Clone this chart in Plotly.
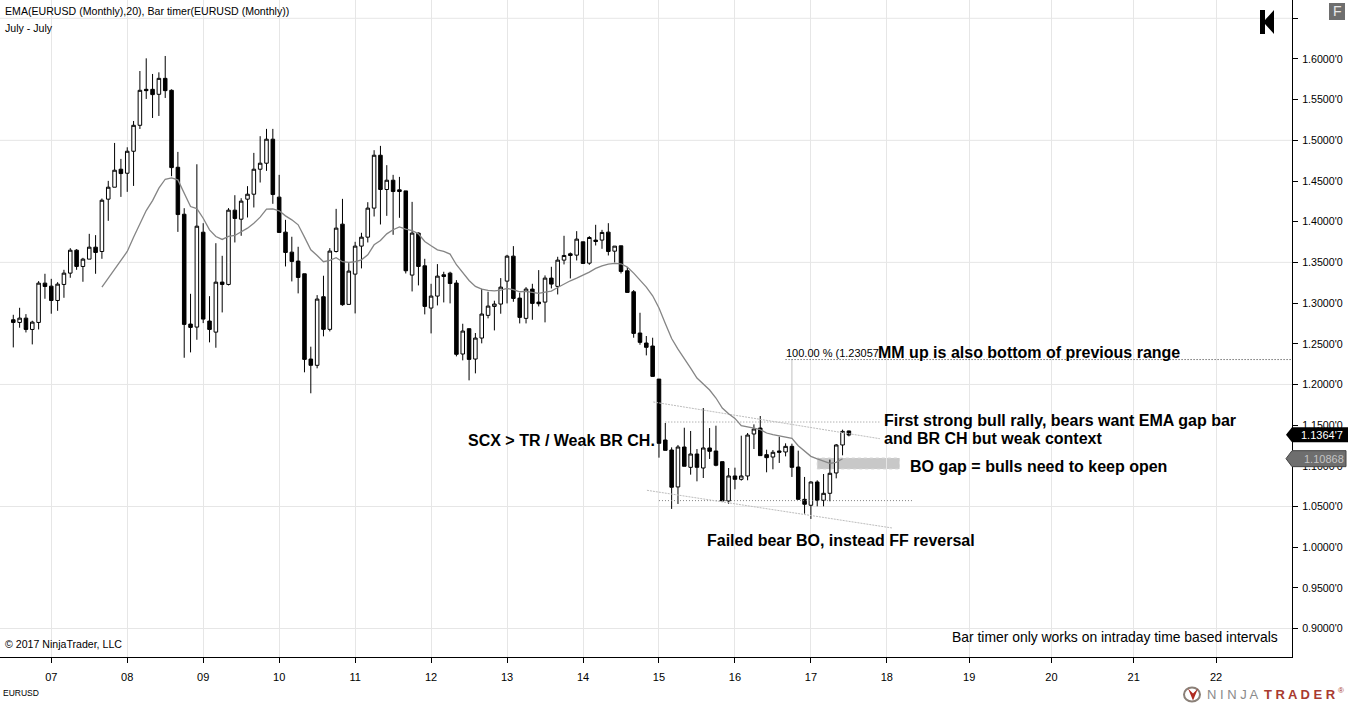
import plotly.graph_objects as go

# monthly bars, 0 = Jan 2007
bar_pos = list(range(-6, 127))

opens = [1.2795, 1.2762, 1.2815, 1.2676, 1.2762, 1.3245,
         1.3208, 1.3032, 1.3229, 1.3368, 1.3650, 1.3450, 1.3540, 1.3687, 1.3634, 1.4277, 1.4424, 1.4645,
         1.4596, 1.4866, 1.5185, 1.5627, 1.5627, 1.5566, 1.5762, 1.5615, 1.4669, 1.4092, 1.2742, 1.2705,
         1.3871, 1.2779, 1.2643, 1.3258, 1.3229, 1.4142, 1.4031, 1.4277, 1.4338, 1.4645, 1.4719, 1.5014,
         1.4302, 1.3872, 1.3626, 1.3516, 1.3360, 1.2312, 1.2235, 1.3078, 1.2677, 1.3634, 1.3970, 1.2984,
         1.3356, 1.3700, 1.3810, 1.4167, 1.4817, 1.4396, 1.4510, 1.4392, 1.4379, 1.3344, 1.3860, 1.3458,
         1.2939, 1.3086, 1.3348, 1.3368, 1.3246, 1.2374, 1.2685, 1.2312, 1.2570, 1.2849, 1.2959, 1.2988,
         1.3270, 1.3577, 1.3061, 1.2812, 1.3172, 1.3012, 1.3012, 1.3307, 1.3205, 1.3528, 1.3606, 1.3589,
         1.3753, 1.3491, 1.3774, 1.3774, 1.3872, 1.3638, 1.3704, 1.3397, 1.3139, 1.2632, 1.2509, 1.2472,
         1.2066, 1.1317, 1.1194, 1.0740, 1.1231, 1.0981, 1.1145, 1.0973, 1.1219, 1.1182, 1.1051, 1.0568,
         1.0875, 1.0834, 1.0875, 1.1391, 1.1464, 1.1137, 1.1108, 1.1182, 1.1170, 1.1239, 1.0985, 1.0588,
         1.0515, 1.0801, 1.0576, 1.0662, 1.0912, 1.1256, 1.1428]
highs = [1.2856, 1.2942, 1.2864, 1.2783, 1.3270, 1.3360,
         1.3298, 1.3257, 1.3409, 1.3675, 1.3663, 1.3556, 1.3851, 1.3835, 1.4285, 1.4502, 1.4968, 1.4772,
         1.4915, 1.5238, 1.5852, 1.6008, 1.5816, 1.5836, 1.6037, 1.5627, 1.4858, 1.4166, 1.3114, 1.4706,
         1.3982, 1.3085, 1.3736, 1.3581, 1.4167, 1.4326, 1.4289, 1.4437, 1.4846, 1.5051, 1.5141, 1.5141,
         1.4576, 1.4023, 1.3815, 1.3692, 1.3360, 1.2464, 1.3098, 1.3336, 1.3675, 1.4158, 1.4281, 1.3491,
         1.3753, 1.3864, 1.4240, 1.4879, 1.4932, 1.4695, 1.4576, 1.4551, 1.4379, 1.4244, 1.3868, 1.3544,
         1.3237, 1.3479, 1.3385, 1.3385, 1.3282, 1.2746, 1.2685, 1.2632, 1.3176, 1.3139, 1.3029, 1.3307,
         1.3593, 1.3700, 1.3127, 1.3196, 1.3237, 1.3405, 1.3340, 1.3446, 1.3569, 1.3827, 1.3622, 1.3884,
         1.3753, 1.3823, 1.3962, 1.3900, 1.3982, 1.3700, 1.3704, 1.3442, 1.3160, 1.2881, 1.2595, 1.2574,
         1.2066, 1.1526, 1.1227, 1.1256, 1.1468, 1.1428, 1.1206, 1.1710, 1.1464, 1.1493, 1.1051, 1.0973,
         1.0977, 1.1370, 1.1403, 1.1509, 1.1612, 1.1198, 1.1194, 1.1358, 1.1276, 1.1272, 1.1186, 1.0863,
         1.0809, 1.0822, 1.0899, 1.1076, 1.1268, 1.1444, 1.1432]
lows = [1.2455, 1.2697, 1.2639, 1.2492, 1.2676, 1.3053,
        1.2869, 1.2905, 1.3065, 1.3311, 1.3409, 1.3262, 1.3540, 1.3360, 1.3544, 1.4011, 1.4424, 1.4305,
        1.4367, 1.4440, 1.5140, 1.5509, 1.5275, 1.5300, 1.5521, 1.4559, 1.3875, 1.2328, 1.2394, 1.2549,
        1.2754, 1.2517, 1.2451, 1.2885, 1.3217, 1.3745, 1.3827, 1.4052, 1.4175, 1.4482, 1.4625, 1.4220,
        1.3868, 1.3450, 1.3266, 1.3119, 1.2149, 1.1891, 1.2198, 1.2591, 1.2652, 1.3622, 1.2967, 1.2984,
        1.2873, 1.3426, 1.3745, 1.4064, 1.3966, 1.4072, 1.3839, 1.4048, 1.3364, 1.3143, 1.3217, 1.2861,
        1.2627, 1.2971, 1.3008, 1.2996, 1.2345, 1.2296, 1.2050, 1.2136, 1.2505, 1.2812, 1.2664, 1.2869,
        1.2996, 1.3016, 1.2750, 1.2750, 1.2795, 1.2959, 1.2763, 1.3180, 1.3106, 1.3475, 1.3303, 1.3524,
        1.3483, 1.3471, 1.3708, 1.3667, 1.3585, 1.3499, 1.3364, 1.3131, 1.2574, 1.2488, 1.2357, 1.2099,
        1.1100, 1.1190, 1.0470, 1.0531, 1.0994, 1.0891, 1.0809, 1.0850, 1.1084, 1.0994, 1.0568, 1.0531,
        1.0711, 1.0818, 1.0822, 1.1206, 1.1125, 1.0920, 1.0957, 1.1035, 1.1116, 1.0863, 1.0580, 1.0412,
        1.0347, 1.0502, 1.0502, 1.0564, 1.0846, 1.1129, 1.1362]
closes = [1.2762, 1.2815, 1.2676, 1.2766, 1.3245, 1.3204,
          1.3032, 1.3233, 1.3368, 1.3650, 1.3450, 1.3540, 1.3687, 1.3622, 1.4264, 1.4424, 1.4633, 1.4592,
          1.4866, 1.5185, 1.5615, 1.5611, 1.5562, 1.5762, 1.5611, 1.4665, 1.4088, 1.2738, 1.2701, 1.3945,
          1.2803, 1.2676, 1.3257, 1.3229, 1.4142, 1.4040, 1.4253, 1.4338, 1.4645, 1.4719, 1.5014, 1.4334,
          1.3868, 1.3622, 1.3512, 1.3315, 1.2308, 1.2235, 1.3049, 1.2677, 1.3639, 1.3921, 1.2980, 1.3393,
          1.3700, 1.3810, 1.4167, 1.4817, 1.4396, 1.4510, 1.4371, 1.4371, 1.3397, 1.3860, 1.3450, 1.2959,
          1.3086, 1.3331, 1.3327, 1.3241, 1.2370, 1.2656, 1.2308, 1.2570, 1.2865, 1.2963, 1.2988, 1.3196,
          1.3577, 1.3057, 1.2824, 1.3172, 1.2996, 1.2992, 1.3307, 1.3233, 1.3528, 1.3585, 1.3585, 1.3786,
          1.3487, 1.3806, 1.3757, 1.3868, 1.3634, 1.3700, 1.3389, 1.3131, 1.2627, 1.2517, 1.2456, 1.2099,
          1.1276, 1.1190, 1.0736, 1.1231, 1.0994, 1.1145, 1.0981, 1.1219, 1.1178, 1.1006, 1.0568, 1.0875,
          1.0834, 1.0875, 1.1378, 1.1452, 1.1125, 1.1100, 1.1166, 1.1166, 1.1239, 1.0981, 1.0588, 1.0527,
          1.0801, 1.0576, 1.0662, 1.0908, 1.1256, 1.1423, 1.1378]

# EMA(20) starts at bar 8, ends at the bar before last
ema_pos = list(range(8, 126))
ema_vals = [1.3196, 1.3307, 1.3417, 1.3523,
            1.3634, 1.3810, 1.3974, 1.4137, 1.4260, 1.4412, 1.4522, 1.4538, 1.4514, 1.4350, 1.4186, 1.4162,
            1.4043, 1.3900, 1.3818, 1.3782, 1.3819, 1.3831, 1.3880, 1.3921, 1.3982, 1.4056, 1.4154, 1.4158,
            1.4134, 1.4072, 1.4023, 1.3962, 1.3810, 1.3655, 1.3585, 1.3508, 1.3524, 1.3557, 1.3508, 1.3499,
            1.3508, 1.3532, 1.3594, 1.3716, 1.3770, 1.3851, 1.3901, 1.3937, 1.3909, 1.3892, 1.3851, 1.3757,
            1.3704, 1.3655, 1.3634, 1.3602, 1.3471, 1.3377, 1.3278, 1.3205, 1.3172, 1.3155, 1.3151, 1.3160,
            1.3180, 1.3164, 1.3139, 1.3143, 1.3131, 1.3119, 1.3135, 1.3147, 1.3192, 1.3237, 1.3274, 1.3307,
            1.3340, 1.3381, 1.3426, 1.3458, 1.3479, 1.3487, 1.3483, 1.3442, 1.3368, 1.3278, 1.3196, 1.3090,
            1.2939, 1.2750, 1.2565, 1.2434, 1.2324, 1.2201, 1.2078, 1.2005, 1.1931, 1.1833, 1.1710, 1.1640,
            1.1583, 1.1493, 1.1481, 1.1464, 1.1444, 1.1403, 1.1382, 1.1370, 1.1358, 1.1337, 1.1247, 1.1178,
            1.1116, 1.1084, 1.1055, 1.1030, 1.1043, 1.1087]

# axis labels
year_pos = [0, 12, 24, 36, 48, 60, 72, 84, 96, 108, 120, 132, 145, 158, 171, 184]
year_labels = ["07", "08", "09", "10", "11", "12", "13", "14", "15", "16", "17", "18", "19", "20", "21", "22"]
price_ticks = [0.90, 0.95, 1.00, 1.05, 1.10, 1.15, 1.20, 1.25, 1.30, 1.35, 1.40, 1.45, 1.50, 1.55, 1.60, 1.65]
price_labels = ["0.9000'0", "0.9500'0", "1.0000'0", "1.0500'0", "1.1000'0", "1.1500'0", "1.2000'0", "1.2500'0",
                "1.3000'0", "1.3500'0", "1.4000'0", "1.4500'0", "1.5000'0", "1.5500'0", "1.6000'0", ""]
grid_levels = [0.90, 1.05, 1.20, 1.35, 1.50, 1.65]

# drawing tools on the chart
target_x = [116, 196]
target_y = [1.23057, 1.23057]
target_leg_x = [117, 117]
target_leg_y = [1.23057, 1.1330]
top_level_x = [97, 131]
top_level_y = [1.1538, 1.1538]
low_level_x = [96, 136]
low_level_y = [1.0572, 1.0572]
upper_trend_x = [95.1, 130.9]
upper_trend_y = [1.1784, 1.1333]
lower_trend_x = [94.1, 132.8]
lower_trend_y = [1.0699, 1.0236]
gap_x = [121, 134]
gap_y = [1.0961, 1.1096]

PLOT_W = 1292
PLOT_H = 657.5


def px(x):
    return x / PLOT_W


def py(y):
    return 1 - y / PLOT_H


fig = go.Figure()

fig.add_trace(go.Scatter(x=target_leg_x, y=target_leg_y, mode='lines', line=dict(color='#c0c0c0', width=1)))
fig.add_trace(go.Scatter(x=top_level_x, y=top_level_y, mode='lines', line=dict(color='#909090', width=1, dash='1px 2px')))
fig.add_trace(go.Scatter(x=low_level_x, y=low_level_y, mode='lines', line=dict(color='#808080', width=1, dash='1px 2px')))
fig.add_trace(go.Scatter(x=upper_trend_x, y=upper_trend_y, mode='lines', line=dict(color='#bdbdbd', width=1, dash='2px 1px')))
fig.add_trace(go.Scatter(x=lower_trend_x, y=lower_trend_y, mode='lines', line=dict(color='#bdbdbd', width=1, dash='2px 1px')))
fig.add_trace(go.Scatter(x=target_x, y=target_y, mode='lines', line=dict(color='#303030', width=1, dash='1px 2px')))

fig.add_trace(go.Candlestick(
    x=bar_pos, open=opens, high=highs, low=lows, close=closes,
    increasing=dict(fillcolor='white', line=dict(color='black', width=1)),
    decreasing=dict(fillcolor='black', line=dict(color='black', width=1)),
    whiskerwidth=0,
    hoverinfo='skip',
))
fig.add_trace(go.Scatter(x=ema_pos, y=ema_vals, mode='lines', line=dict(color='#858585', width=1.3)))

# horizontal grid only every third tick
for level in grid_levels:
    fig.add_shape(type='line', xref='paper', yref='y', x0=0, x1=1, y0=level, y1=level,
                  line=dict(color='#e6e6e6', width=1), layer='below')

# BO gap box
fig.add_shape(type='rect', x0=gap_x[0], x1=gap_x[1], y0=gap_y[0], y1=gap_y[1],
              fillcolor='#c8c8c8', line=dict(color='#d8d8d8', width=1, dash='dot'), layer='below')

# price markers on the axis
fig.add_shape(type='path', xref='paper', yref='paper',
              path=f"M {px(1286)} {py(435)} L {px(1292)} {py(427.5)} L {px(1348)} {py(427.5)} L {px(1348)} {py(442.5)} L {px(1292)} {py(442.5)} Z",
              fillcolor='black', line=dict(color='black', width=0), layer='above')
fig.add_shape(type='path', xref='paper', yref='paper',
              path=f"M {px(1286)} {py(459)} L {px(1292)} {py(451)} L {px(1346)} {py(451)} L {px(1346)} {py(467)} L {px(1292)} {py(467)} Z",
              fillcolor='#6e6e6e', line=dict(color='#444444', width=1), layer='above')

# F button and back arrow
fig.add_shape(type='rect', xref='paper', yref='paper', x0=px(1329), x1=px(1345), y0=py(20), y1=py(3),
              fillcolor='#6e6e6e', line=dict(width=0), layer='above')
fig.add_shape(type='path', xref='paper', yref='paper',
              path=f"M {px(1260)} {py(10)} L {px(1265)} {py(10)} L {px(1265)} {py(20)} L {px(1274)} {py(10)} L {px(1274)} {py(34)} L {px(1265)} {py(24)} L {px(1265)} {py(34)} L {px(1260)} {py(34)} Z",
              fillcolor='black', line=dict(width=0), layer='above')

# logo mark
fig.add_shape(type='circle', xref='paper', yref='paper', x0=px(1184), x1=px(1200), y0=py(702), y1=py(688),
              fillcolor='white', line=dict(color='#8a8078', width=2), layer='above')
fig.add_shape(type='path', xref='paper', yref='paper',
              path=f"M {px(1188)} {py(689)} L {px(1193)} {py(701)} L {px(1198)} {py(689)} L {px(1193)} {py(694)} Z",
              fillcolor='#b02a20', line=dict(width=0), layer='above')

texts = [
    ("EMA(EURUSD (Monthly),20), Bar timer(EURUSD (Monthly))", 5, 11, 10.6, 'black', False),
    ("July - July", 5, 28, 10.6, 'black', False),
    ("© 2017 NinjaTrader, LLC", 5, 644, 10.6, 'black', False),
    ("Bar timer only works on intraday time based intervals", 952, 637, 13.9, 'black', False),
    ("EURUSD", 3, 694, 8.5, 'black', False),
    ("100.00 % (1.23057", 786, 353, 11, 'black', False),
    ("MM up is also bottom of previous range", 878, 353, 16, 'black', True),
    ("SCX &gt; TR / Weak BR CH.", 468, 441, 16, 'black', True),
    ("First strong bull rally, bears want EMA gap bar", 884, 421, 16, 'black', True),
    ("and BR CH but weak context", 884, 439, 16, 'black', True),
    ("BO gap = bulls need to keep open", 910, 467, 16, 'black', True),
    ("Failed bear BO, instead FF reversal", 707, 541, 16, 'black', True),
    ("1.1364'7", 1301, 435, 11, 'white', False),
    ("1.10868", 1304, 459, 11, '#c4c4c4', False),
    ("F", 1333, 11, 14, '#e8e8e8', False),
    ("N I N J A", 1207, 695, 13, '#8a8a8a', False),
    ("<b>T R A D E R</b>", 1264, 695, 13, '#a83a30', False),
    ("®", 1338, 691, 8, '#a83a30', False),
]
for txt, x, y, size, color, bold in texts:
    fig.add_annotation(text=f"<b>{txt}</b>" if bold else txt, xref='paper', yref='paper', x=px(x), y=py(y),
                       xanchor='left', yanchor='middle', showarrow=False, align='left',
                       borderpad=0, borderwidth=0,
                       font=dict(family='Liberation Sans', size=size, color=color))

fig.update_xaxes(range=[-8.1, 196.0], tickmode='array', tickvals=year_pos, ticktext=year_labels,
                 showgrid=True, gridcolor='#e6e6e6', gridwidth=1, zeroline=False,
                 ticks='outside', ticklen=5, tickcolor='black', showline=True, linecolor='black', linewidth=1,
                 tickfont=dict(family='Liberation Sans', size=11, color='black'), ticklabelstandoff=5,
                 rangeslider=dict(visible=False), mirror=False)
fig.update_yaxes(range=[0.8650, 1.6725], side='right', tickmode='array', tickvals=price_ticks, ticktext=price_labels,
                 showgrid=False, zeroline=False,
                 ticks='outside', ticklen=5, tickcolor='black', showline=True, linecolor='black', linewidth=1,
                 tickfont=dict(family='Liberation Sans', size=10.67, color='black'), ticklabelstandoff=2)

fig.update_layout(width=1348, height=704, margin=dict(l=0, r=56, t=0, b=46.5),
                  plot_bgcolor='white', paper_bgcolor='white', showlegend=False,
                  boxgap=0.2, hovermode=False)

# page margin would push the whole chart 8px down and right
fig.write_html("out.html", config=dict(displayModeBar=False),
               post_script="document.body.style.margin='0';document.documentElement.style.overflow='hidden';")
